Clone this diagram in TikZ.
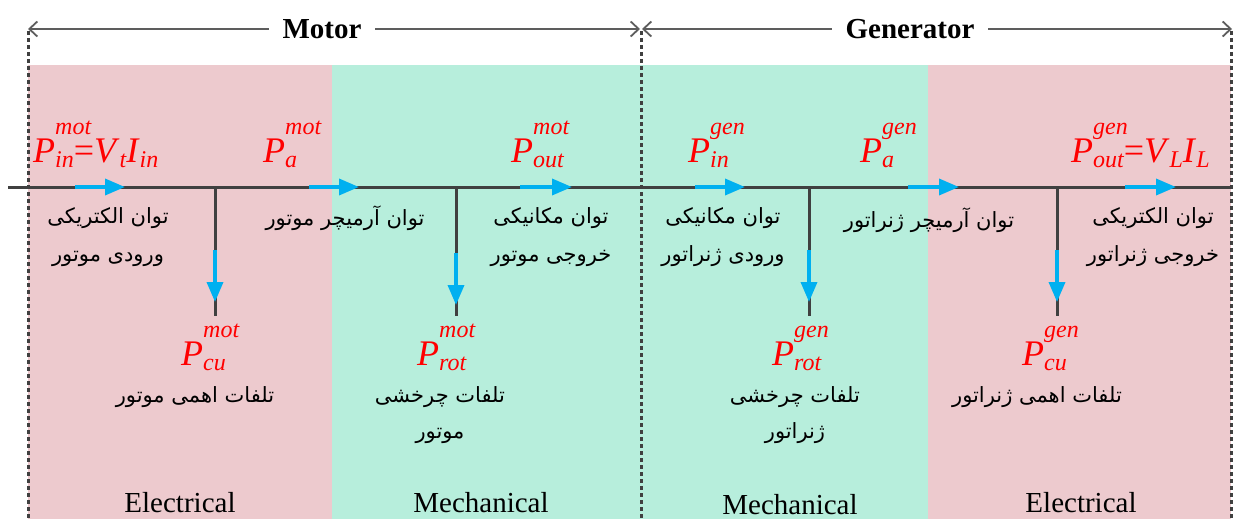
\documentclass[tikz,border=0pt]{standalone}
\usepackage{fontspec}
\setmainfont{Liberation Serif}
\newfontfamily\fafont[Script=Arabic]{DejaVu Sans}
\TeXXeTstate=1
\usetikzlibrary{arrows.meta}

\definecolor{elec}{HTML}{EDCACE}
\definecolor{mech}{HTML}{B7EEDC}
\definecolor{flowblue}{HTML}{00B0F0}
\definecolor{linegray}{HTML}{404040}

\newcommand{\subsz}{\fontsize{24}{24}\selectfont}
\newcommand{\pw}[2]{\textit{P}\rlap{\raisebox{28pt}{\subsz\itshape #2}}\raisebox{-5pt}{\subsz\itshape #1}}
\newcommand{\sbx}[1]{\raisebox{-5pt}{\subsz\itshape #1}}
\newcommand{\rtl}[1]{\beginR #1\endR}

\tikzset{
  shaft/.style={draw=linegray, line width=3pt},
  flow/.style={draw=flowblue, line width=3.5pt, -{Triangle[length=20pt,width=16pt]}},
  border/.style={draw=linegray, line width=3pt, dash pattern=on 4pt off 3pt},
  dimline/.style={draw=linegray!85!white, line width=1.8pt,
    {Straight Barb[length=8pt,width=15pt]}-{Straight Barb[length=8pt,width=15pt]}},
  plabel/.style={text=red, font=\fontsize{36}{40}\selectfont, inner sep=0pt, anchor=base west},
  fatext/.style={font=\fafont\fontsize{21}{38}\selectfont, align=center, inner sep=0pt},
  zonelabel/.style={font=\fontsize{29}{32}\selectfont, inner sep=0pt},
  head/.style={font=\bfseries\fontsize{29}{32}\selectfont, fill=white, inner xsep=14pt, inner ysep=2pt}
}

\begin{document}
\begin{tikzpicture}[x=1pt, y=-1pt]
  \useasboundingbox (0,0) rectangle (1233,519);

  % electrical and mechanical zones
  \fill[elec] (28,65) rectangle (332,519);
  \fill[mech] (332,65) rectangle (928,519);
  \fill[elec] (928,65) rectangle (1231,519);

  \foreach \x in {28,641,1231}
    \draw[border] (\x,31) -- (\x,519);

  % motor / generator spans
  \coordinate (mL) at (28,29);
  \coordinate (mR) at (640,29);
  \coordinate (gL) at (642,29);
  \coordinate (gR) at (1232,29);
  \draw[dimline] (mL) -- (mR);
  \draw[dimline] (gL) -- (gR);
  \node[head] (motor) at (322,29) {Motor};
  \node[head] (generator) at (910,29) {Generator};

  % power line and losses
  \coordinate (in) at (8,187);
  \coordinate (out) at (1233,187);
  \draw[shaft] (in) -- (out);
  \foreach \n/\x in {cum/215, rotm/456, rotg/809, cug/1057} {
    \coordinate (\n top) at (\x,187);
    \coordinate (\n bot) at (\x,316);
    \draw[shaft] (\n top) -- (\n bot);
  }

  \foreach \a/\b in {75/125, 309/359, 520/572, 695/745, 908/959, 1125/1176}
    \draw[flow] (\a,187) -- (\b,187);
  \foreach \x/\a/\b in {215/250/302, 456/253/305, 809/250/302, 1057/250/302}
    \draw[flow] (\x,\a) -- (\x,\b);

  % powers
  \node[plabel] (pinm) at (33,162) {\pw{in}{mot}=\textit{V}\sbx{t}\textit{I}\sbx{in}};
  \node[plabel] (pam) at (263,162) {\pw{a}{mot}};
  \node[plabel] (poutm) at (511,162) {\pw{out}{mot}};
  \node[plabel] (ping) at (688,162) {\pw{in}{gen}};
  \node[plabel] (pag) at (860,162) {\pw{a}{gen}};
  \node[plabel] (poutg) at (1071,162) {\pw{out}{gen}=\textit{V}\sbx{L}\textit{I}\sbx{L}};
  \node[plabel] (pcum) at (181,365) {\pw{cu}{mot}};
  \node[plabel] (protm) at (417,365) {\pw{rot}{mot}};
  \node[plabel] (protg) at (772,365) {\pw{rot}{gen}};
  \node[plabel] (pcug) at (1022,365) {\pw{cu}{gen}};

  \node[fatext] (tinm) at (108,237) {\rtl{توان الکتریکی}\\\rtl{ورودی موتور}};
  \node[fatext] (tam) at (345,218) {\rtl{توان آرمیچر موتور}};
  \node[fatext] (toutm) at (551,237) {\rtl{توان مکانیکی}\\\rtl{خروجی موتور}};
  \node[fatext] (ting) at (723,237) {\rtl{توان مکانیکی}\\\rtl{ورودی ژنراتور}};
  \node[fatext] (tag) at (929,220) {\rtl{توان آرمیچر ژنراتور}};
  \node[fatext] (toutg) at (1153,237) {\rtl{توان الکتریکی}\\\rtl{خروجی ژنراتور}};
  \node[fatext] (tcum) at (195,397) {\rtl{تلفات اهمی موتور}};
  \node[fatext, font=\fafont\fontsize{21}{36}\selectfont] (trotm) at (440,415) {\rtl{تلفات چرخشی}\\\rtl{موتور}};
  \node[fatext, font=\fafont\fontsize{21}{36}\selectfont] (trotg) at (795,415) {\rtl{تلفات چرخشی}\\\rtl{ژنراتور}};
  \node[fatext] (tcug) at (1037,397) {\rtl{تلفات اهمی ژنراتور}};

  \node[zonelabel] (elm) at (180,503) {Electrical};
  \node[zonelabel] (mcm) at (481,503) {Mechanical};
  \node[zonelabel] (mcg) at (790,505) {Mechanical};
  \node[zonelabel] (elg) at (1081,503) {Electrical};
\end{tikzpicture}
\end{document}
